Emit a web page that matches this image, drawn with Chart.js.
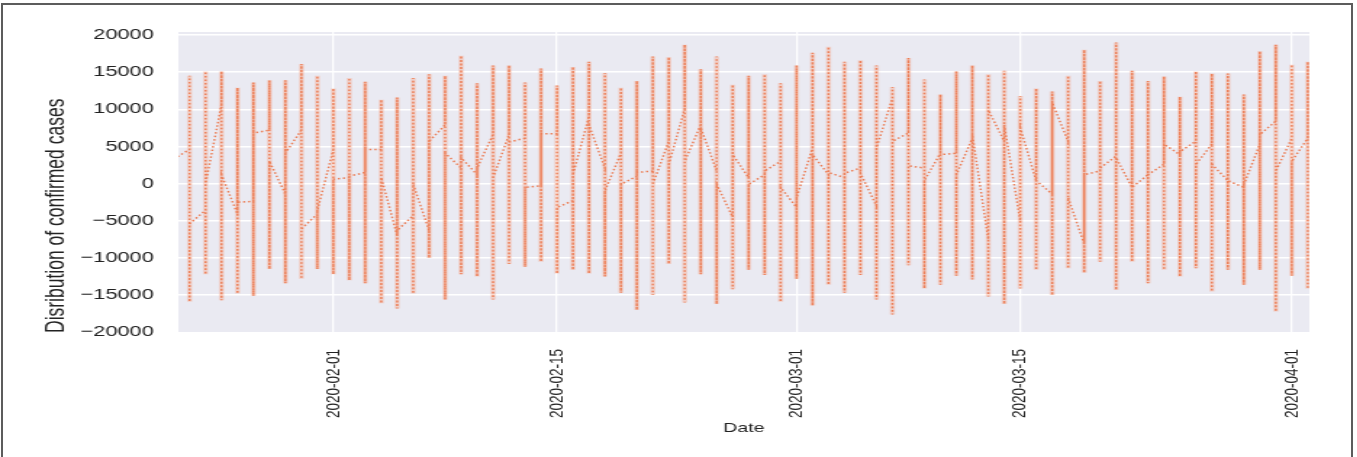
<!DOCTYPE html>
<html lang="en">
<head>
<meta charset="UTF-8">
<title>Distribution of confirmed cases</title>
<script src="https://cdn.jsdelivr.net/npm/chart.js"></script>
<style>
  body { margin: 0; background: #fff; }
  #page { position: relative; width: 1357px; height: 457px; overflow: hidden; }
  /* the source figure is stretched sideways, so draw narrow and widen */
  #stretch { position: absolute; left: 0; top: 0; width: 936px; height: 457px;
             transform: scaleX(1.45); transform-origin: 0 0; }
  #frame { position: absolute; left: 1px; top: 3px; width: 1348px; height: 470px;
           border: 2px solid #5c5c5c; pointer-events: none; }
</style>
</head>
<body>
<div id="page">
  <div id="stretch"><canvas id="casesChart" width="936" height="457"></canvas></div>
  <div id="frame"></div>
</div>

<script>
// day 0 = 2020-01-22, one entry per day up to 2020-04-02
const dayHigh = [14000, 14500, 15100, 15100, 12900, 13600, 13900, 13900, 16100, 14500,
  12800, 14200, 13700, 11300, 11600, 14200, 14700, 14500, 17200, 13500,
  15900, 15900, 13600, 15500, 13200, 15700, 16400, 14900, 12900, 13800,
  17100, 17000, 18700, 15400, 17100, 13300, 14500, 14700, 13500, 15900,
  17600, 18400, 16400, 16600, 15900, 13000, 16900, 14000, 12000, 15100,
  15900, 14700, 15200, 11800, 12800, 12400, 14500, 18000, 13800, 19000,
  15200, 13800, 14400, 11700, 15100, 14800, 14800, 12000, 17800, 18700,
  16000, 16400];
const dayLow = [-13000, -15900, -12200, -15700, -14800, -15100, -11500, -13400, -12800, -11500,
  -12200, -13000, -13400, -16100, -16800, -14800, -10000, -15600, -12200, -12500,
  -15600, -10800, -11200, -10500, -12100, -11600, -12100, -12500, -14700, -17000,
  -15000, -10800, -16000, -12200, -16200, -14200, -11600, -12300, -15900, -12800,
  -16400, -13600, -14700, -12300, -15600, -17600, -11000, -14100, -13600, -12400,
  -12900, -15200, -16200, -14100, -11600, -15000, -11400, -12000, -10500, -14300,
  -10500, -13400, -11600, -12500, -11400, -14500, -11600, -13600, -11600, -17200,
  -12400, -14100];
const dayFirst = [3000, 4600, -3600, 10600, -4100, -2400, 7200, -1400, 7200, -4100,
  4600, 800, 1500, 4600, -7000, -4300, -6300, 7900, 2100, 1200,
  6600, 6600, 6100, -300, 6700, -2300, 9000, 2100, 4100, 1000,
  1700, 5700, 10100, 7900, 1700, -4500, 800, 1200, 3000, -3200,
  4800, 1200, 800, 2100, -3000, 11500, 6800, 2100, 4100, 4100,
  6100, -7500, 5700, -5000, 400, -1400, 5700, -8100, 1700, 3700,
  -500, 1200, 2600, 3900, 5700, 5300, 400, -500, 5300, 8400,
  6100, 6100];
const dayLast = [3300, -5400, 0, 1200, -2500, 6800, 3000, 4100, -6100, -3600,
  600, 1000, 4600, 800, -6300, -100, 5700, 4100, 3500, 2100,
  800, 5600, -500, 6700, -3200, 1200, 7900, -1000, -100, 1500,
  -100, 2600, 3000, 7500, -100, 3900, -100, 1700, -500, -1900,
  3900, 1500, 1400, 1400, 4800, 5700, 2400, 400, 3900, 1200,
  6600, 9900, 7900, 7500, 400, 10900, -1900, 1200, 2100, 3500,
  -500, 1200, 5300, 4300, 2600, 2600, 400, -100, 6600, 1700,
  3000, -14100];

const xTickDays = [10, 24, 39, 53, 70];
const xTickLabels = ['2020-02-01', '2020-02-15', '2020-03-01', '2020-03-15', '2020-04-01'];
const yTickValues = [-20000, -15000, -10000, -5000, 0, 5000, 10000, 15000, 20000];

// each day: first value, up to the high, down to the low, then the last value
const points = [];
// soft band behind each day's high-low span only
const spans = [];
dayHigh.forEach((hi, d) => {
    points.push({x: d, y: dayFirst[d]});
    points.push({x: d, y: hi});
    points.push({x: d, y: dayLow[d]});
    points.push({x: d, y: dayLast[d]});
    spans.push({x: d, y: hi}, {x: d, y: dayLow[d]}, {x: d, y: null});
});

const plotBackground = {
    id: 'plotBackground',
    beforeDraw(chart) {
        const a = chart.chartArea;
        const ctx = chart.ctx;
        ctx.save();
        ctx.fillStyle = '#eaeaf2';
        ctx.fillRect(a.left, a.top, a.right - a.left, a.bottom - a.top);
        ctx.restore();
    }
};

const fontFamily = '"Liberation Sans", Arial, sans-serif';

new Chart(document.getElementById('casesChart'), {
    type: 'line',
    data: {
        datasets: [{
            data: points,
            borderColor: 'rgb(236, 126, 86)',
            borderWidth: 1.5,
            borderDash: [1.5, 2],
            pointRadius: 0,
            tension: 0,
            clip: 0
        }, {
            data: spans,
            borderColor: 'rgba(248, 168, 140, 0.4)',
            borderWidth: 3.5,
            pointRadius: 0,
            tension: 0,
            spanGaps: false,
            clip: 0
        }]
    },
    options: {
        responsive: false,
        animation: false,
        layout: { padding: { left: 0, top: 32, right: 33, bottom: 0 } },
        plugins: { legend: { display: false }, tooltip: { enabled: false } },
        scales: {
            x: {
                type: 'linear',
                min: 0.3,
                max: 71.1,
                afterFit(scale) { scale.height = 124; },
                afterBuildTicks(scale) { scale.ticks = xTickDays.map(v => ({value: v})); },
                ticks: {
                    autoSkip: false,
                    minRotation: 90,
                    maxRotation: 90,
                    padding: 16,
                    color: '#222',
                    font: { family: fontFamily, size: 13.5 },
                    callback: v => xTickLabels[xTickDays.indexOf(v)]
                },
                grid: { color: '#ffffff', lineWidth: 1.3, drawTicks: false },
                border: { display: false },
                title: {
                    display: true,
                    text: 'Date',
                    color: '#222',
                    font: { family: fontFamily, size: 13.5 },
                    padding: { top: 21, bottom: 21 }
                }
            },
            y: {
                min: -20100,
                max: 20400,
                afterFit(scale) { scale.width = 123; },
                afterBuildTicks(scale) { scale.ticks = yTickValues.map(v => ({value: v})); },
                ticks: {
                    padding: 17,
                    color: '#222',
                    font: { family: fontFamily, size: 15 },
                    callback: v => (v < 0 ? '\u2212' + Math.abs(v) : String(v))
                },
                grid: { color: '#ffffff', lineWidth: 1.5, drawTicks: false },
                border: { display: false },
                title: {
                    display: true,
                    text: 'Disribution of confirmed cases',
                    align: 'start',
                    color: '#222',
                    font: { family: fontFamily, size: 17.5 },
                    padding: { top: 29, bottom: 0 }
                }
            }
        }
    },
    plugins: [plotBackground]
});
</script>
</body>
</html>
